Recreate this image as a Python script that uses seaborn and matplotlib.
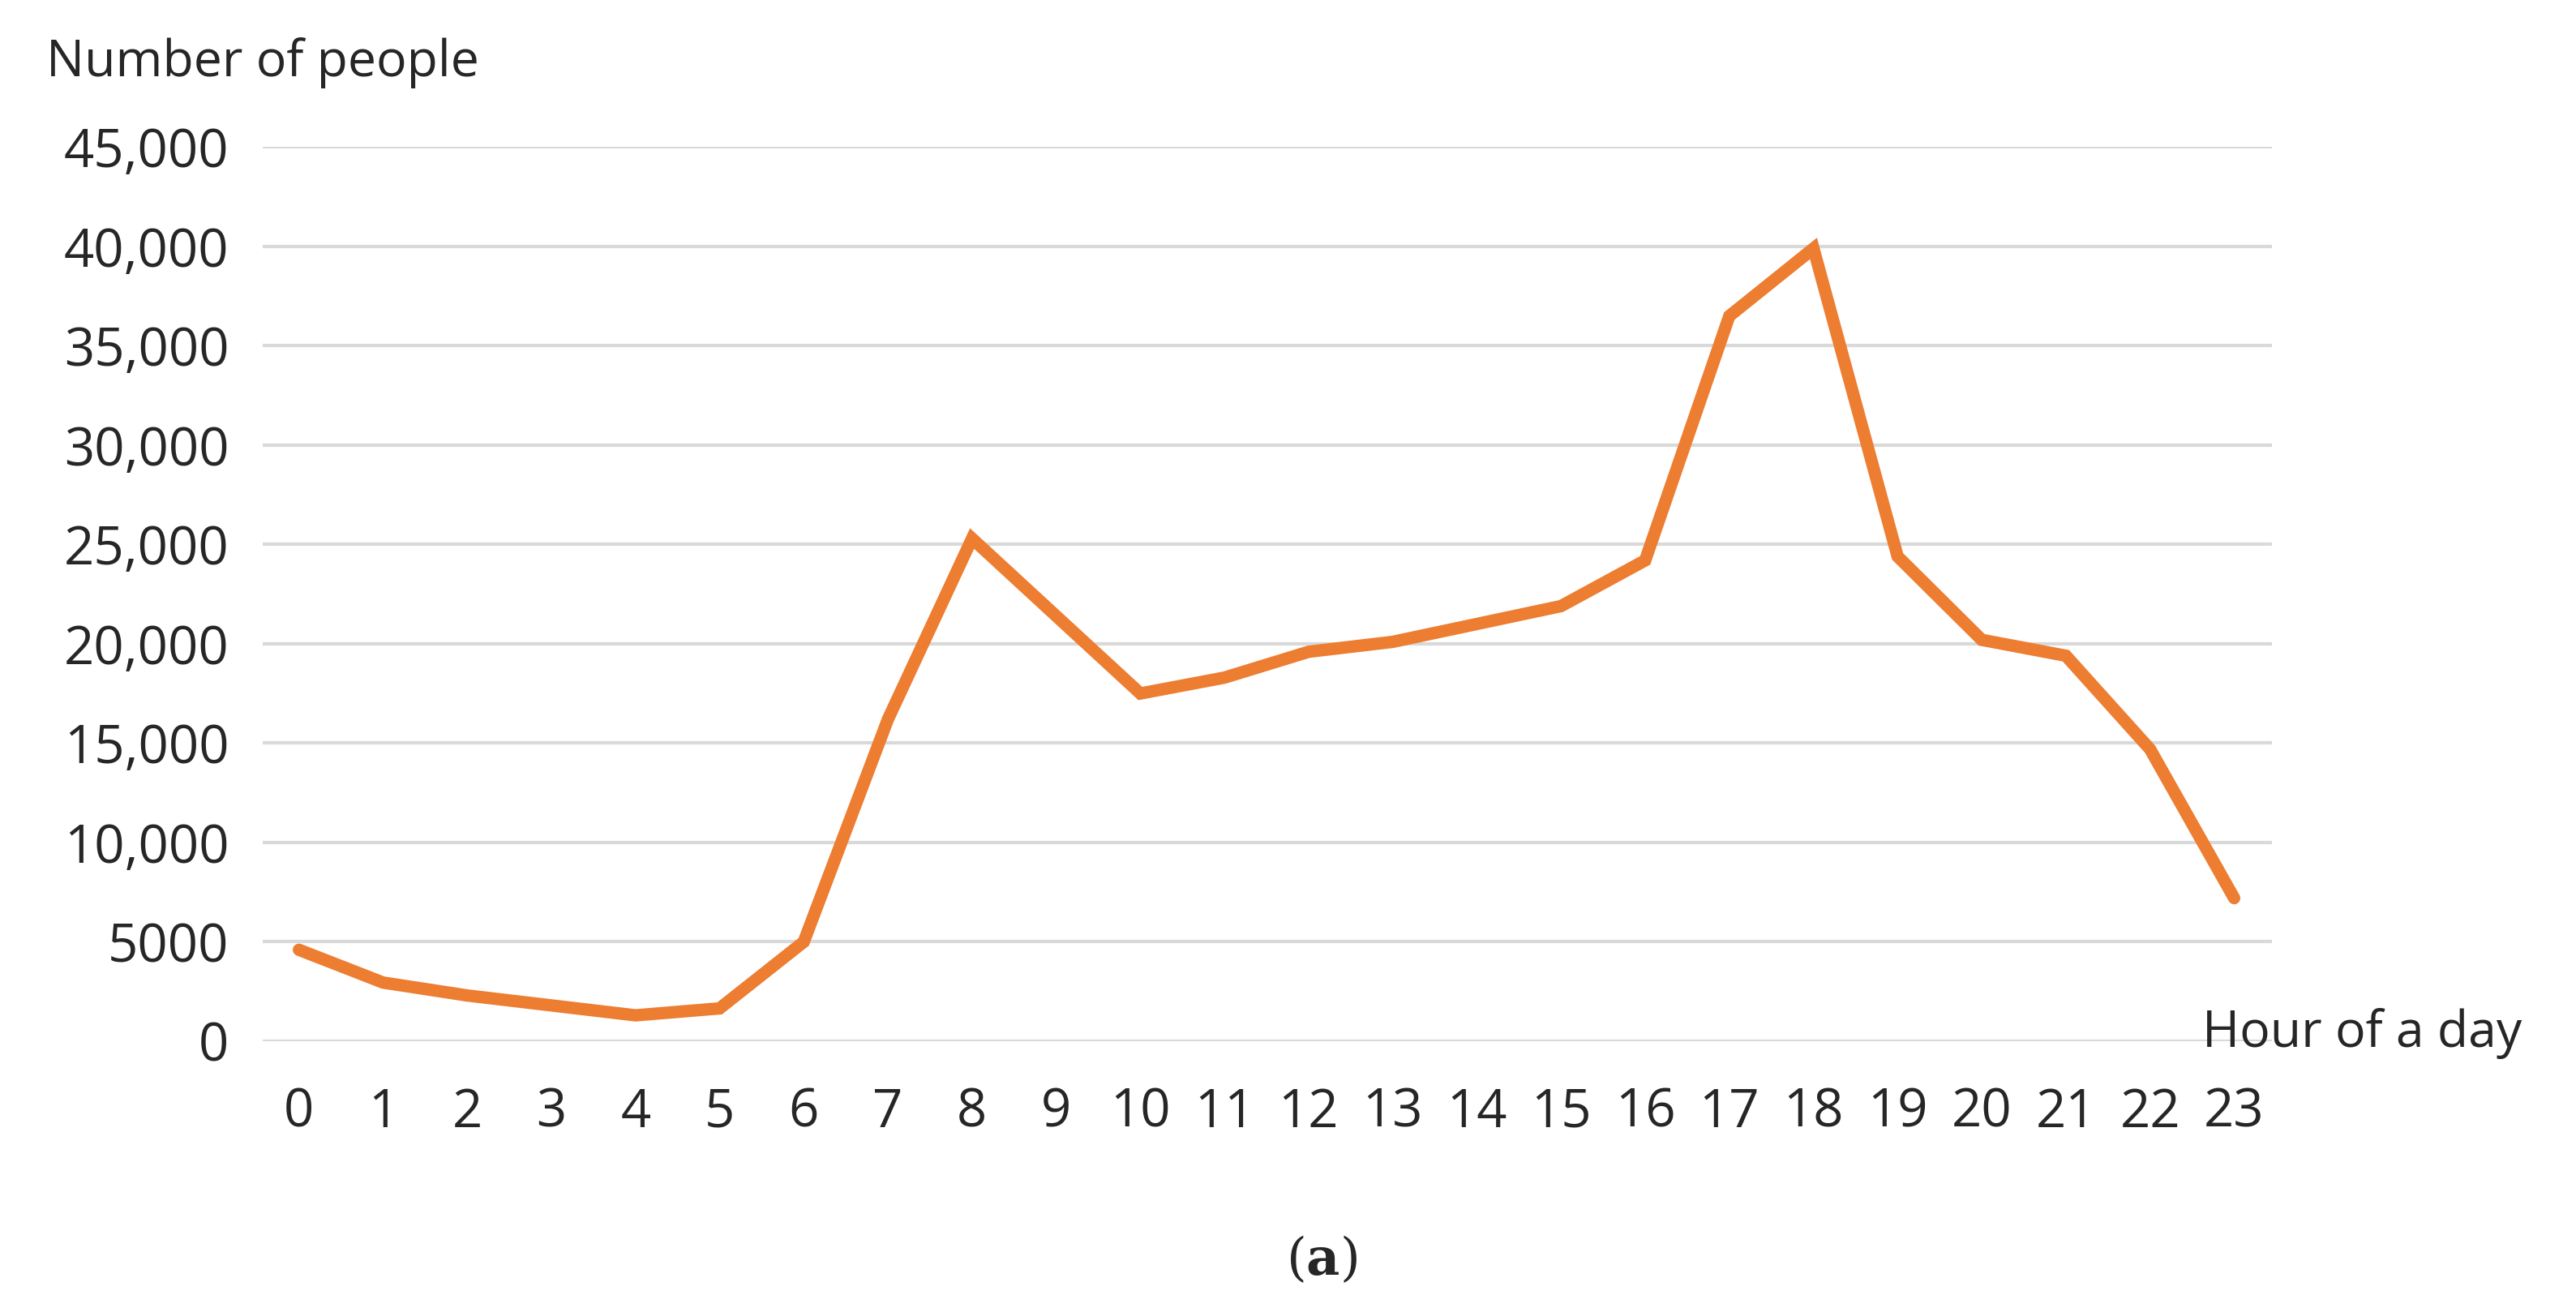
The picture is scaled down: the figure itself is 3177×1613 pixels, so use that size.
import matplotlib
matplotlib.use('Agg')
import matplotlib.pyplot as plt
import seaborn as sns
import pandas as pd

sns.set_theme(style='white')
plt.rcParams['font.family'] = ['Open Sans', 'DejaVu Sans']
plt.rcParams['mathtext.fontset'] = 'dejavuserif'

# hourly counts
hours = list(range(24))
people = [4600, 2950, 2300, 1800, 1300, 1650, 5000, 16200, 25300, 21400,
          17500, 18300, 19600, 20100, 21000, 21900, 24200, 36500, 39900,
          24400, 20200, 19400, 14700, 7200]
y_ticks = [0, 5000, 10000, 15000, 20000, 25000, 30000, 35000, 40000, 45000]
y_labels = ['0', '5000', '10,000', '15,000', '20,000', '25,000', '30,000',
            '35,000', '40,000', '45,000']

df = pd.DataFrame({'hour': hours, 'people': people})

fig = plt.figure(figsize=(31.77, 16.13), dpi=100)
ax = fig.add_axes([0.102, 0.204, 0.78, 0.6835])

for t in y_ticks:
    ax.axhline(t, color='#D9D9D9', lw=3, zorder=0)

sns.lineplot(data=df, x='hour', y='people', ax=ax, color='#ED7D31', lw=11,
             solid_joinstyle='miter', zorder=3)

ax.set_xlim(-0.43, 23.45)
ax.set_ylim(0, 45000)
ax.set_xticks(hours)
ax.set_xticklabels([str(h) for h in hours], fontsize=47)
ax.set_yticks(y_ticks)
ax.set_yticklabels(y_labels, fontsize=47)
ax.tick_params(axis='x', length=0, pad=40)
ax.tick_params(axis='y', length=0, pad=30)
ax.set_xlabel('')
ax.set_ylabel('')
for s in ax.spines.values():
    s.set_visible(False)

fig.text(0.018, 0.952, 'Number of people', fontsize=45, va='center', ha='left')
fig.text(0.855, 0.21, 'Hour of a day', fontsize=45, va='center', ha='left')
fig.text(0.513, 0.037, r'($\mathbf{a}$)', fontsize=46, va='center', ha='center',
         family=['DejaVu Serif'])

fig.savefig('out.png', dpi=100, facecolor='white')
